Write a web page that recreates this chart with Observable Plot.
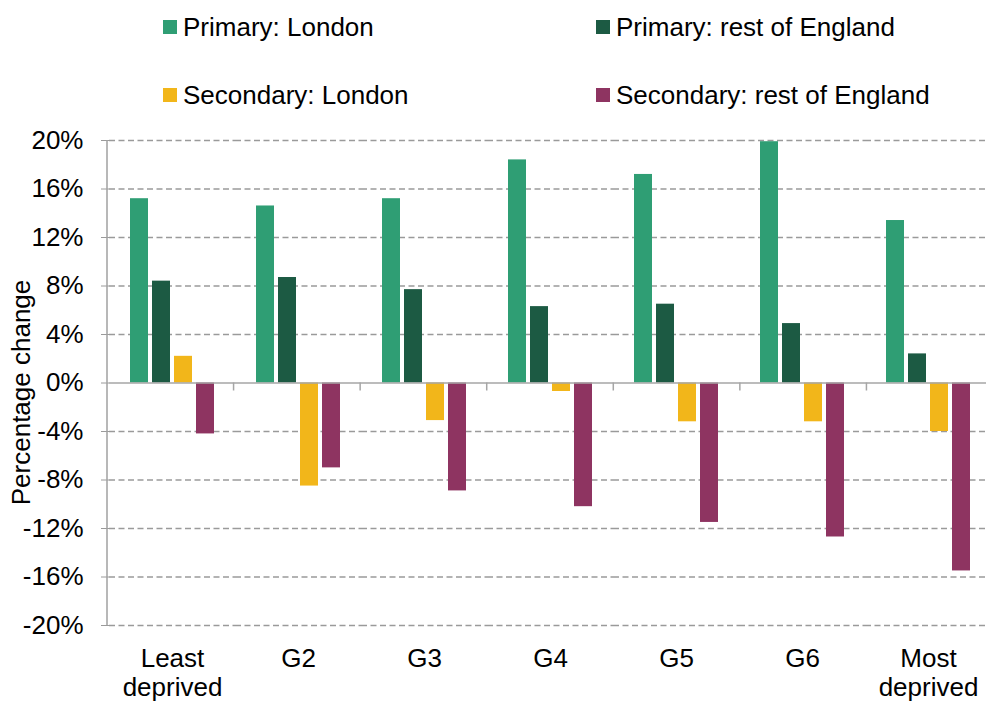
<!DOCTYPE html>
<html><head><meta charset="utf-8">
<script src="https://cdn.jsdelivr.net/npm/d3@7"></script>
<script src="https://cdn.jsdelivr.net/npm/@observablehq/plot@0.6"></script>
<style>
body{margin:0;background:#fff;font-family:"Liberation Sans",Arial,sans-serif;overflow:hidden;}
#legend{position:relative;width:986px;height:120px;}
.item{position:absolute;display:flex;align-items:center;font-size:26px;line-height:30px;color:#000;white-space:nowrap;}
.sw{width:14px;height:14px;margin-right:6px;flex:none;}
#chart svg{display:block;}
</style></head><body>
<div id="legend"></div><div id="chart"></div>
<script>
const groups = ["Least\ndeprived","G2","G3","G4","G5","G6","Most\ndeprived"];
const series = ["Primary: London","Primary: rest of England","Secondary: London","Secondary: rest of England"];
const colors = ["#2f9e74","#1c5a43","#f2b61a","#8e3461"];
const primaryLondon   = [15.2, 14.6, 15.2, 18.4, 17.2, 19.9, 13.4];
const primaryRest     = [8.4, 8.7, 7.7, 6.3, 6.5, 4.9, 2.4];
const secondaryLondon = [2.2, -8.5, -3.1, -0.7, -3.2, -3.2, -4.0];
const secondaryRest   = [-4.2, -7.0, -8.9, -10.2, -11.5, -12.7, -15.5];
const yTicks = [-20, -16, -12, -8, -4, 0, 4, 8, 12, 16, 20];
const yLabel = "Percentage change";

// legend
const legendPos = [[163, 12], [596, 12], [163, 80], [596, 80]];
const legend = document.getElementById("legend");
series.forEach((s, i) => {
  const it = document.createElement("div");
  it.className = "item";
  it.style.left = legendPos[i][0] + "px";
  it.style.top = legendPos[i][1] + "px";
  const sw = document.createElement("span");
  sw.className = "sw";
  sw.style.background = colors[i];
  const tx = document.createElement("span");
  tx.textContent = s;
  it.appendChild(sw); it.appendChild(tx);
  legend.appendChild(it);
});

const seriesValues = [primaryLondon, primaryRest, secondaryLondon, secondaryRest];
const data = groups.flatMap((g, i) => seriesValues.map((arr, j) => ({group: g, series: series[j], value: arr[i]})));

const chart = Plot.plot({
  width: 986, height: 582,
  marginLeft: 107, marginRight: -7, marginTop: 20, marginBottom: 77,
  style: {fontFamily: '"Liberation Sans", Arial, sans-serif', fontSize: "26px", color: "#000", background: "transparent"},
  fx: {domain: groups, paddingInner: 0, paddingOuter: 0, label: null},
  x: {domain: series, paddingInner: 0.2, paddingOuter: 0.89, axis: null},
  y: {domain: [-20, 20], label: null},
  color: {domain: series, range: colors},
  marks: [
    Plot.ruleY(yTicks.filter(d => d !== 0), {stroke: "#9a9a9a", strokeWidth: 1.3, strokeDasharray: "6,3.5"}),
    Plot.barY(data, {fx: "group", x: "series", y: "value", fill: "series"}),
    Plot.ruleY([0], {stroke: "#a6a6a6", strokeWidth: 1.6}),
    Plot.axisY({ticks: yTicks, tickFormat: d => d + "%", tickSize: 8, tickPadding: 18, stroke: "#9a9a9a", fill: "#000", label: null, fontSize: 26}),
    Plot.axisFx({anchor: "bottom", tickSize: 0, tickPadding: 20, lineHeight: 1.14, label: null, fontSize: 26, fill: "#000"})
  ]
});
document.getElementById("chart").appendChild(chart);

// axis line, category ticks and y label, positioned through Plot's scales
const fxS = chart.scale("fx"), yS = chart.scale("y");
const fxb = d3.scaleBand().domain(fxS.domain).range(fxS.range)
  .paddingInner(fxS.paddingInner ?? 0).paddingOuter(fxS.paddingOuter ?? 0).align(fxS.align ?? 0.5);
const ys = d3.scaleLinear().domain(yS.domain).range(yS.range);
const svg = d3.select(chart);
const g = svg.append("g");
g.append("line").attr("x1", fxS.range[0]).attr("x2", fxS.range[0])
  .attr("y1", ys(20)).attr("y2", ys(-20)).attr("stroke", "#a0a0a0").attr("stroke-width", 1.5);
groups.slice(0, -1).forEach(k => {
  const x = fxb(k) + fxb.bandwidth();
  g.append("line").attr("x1", x).attr("x2", x).attr("y1", ys(0)).attr("y2", ys(0) + 8)
    .attr("stroke", "#a6a6a6").attr("stroke-width", 1.5);
});
g.append("text").text(yLabel)
  .attr("transform", `translate(30,${ys(0) + 10}) rotate(-90)`)
  .attr("text-anchor", "middle").attr("font-size", 26).attr("fill", "#000");
</script>
</body></html>
